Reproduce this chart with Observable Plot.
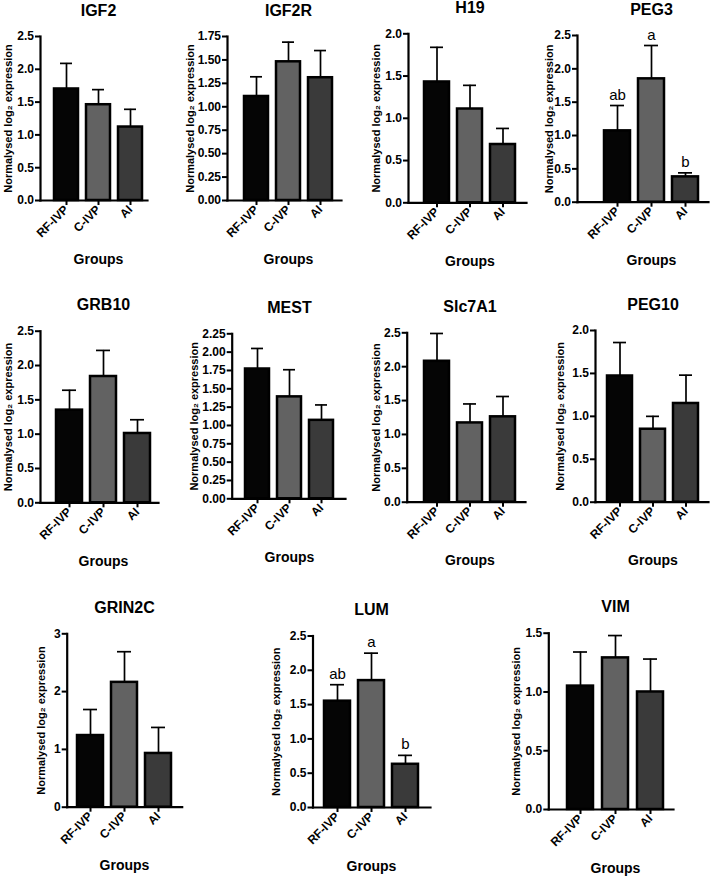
<!DOCTYPE html>
<html>
<head>
<meta charset="utf-8">
<script src="https://cdn.jsdelivr.net/npm/d3@7"></script>
<script src="https://cdn.jsdelivr.net/npm/@observablehq/plot@0.6"></script>
<style>
  html, body { margin: 0; padding: 0; background: #ffffff; }
  #root { position: relative; width: 710px; height: 879px; overflow: hidden; background: #ffffff; }
</style>
</head>
<body>
<div id="root"></div>
<script>
// ---------------- DATA ----------------
const groups = ["RF-IVP", "C-IVP", "AI"];
const genes = ["IGF2", "IGF2R", "H19", "PEG3", "GRB10", "MEST", "Slc7A1", "PEG10", "GRIN2C", "LUM", "VIM"];

const meanIGF2   = [1.70, 1.46, 1.12];  const semIGF2   = [0.39, 0.23, 0.27];
const meanIGF2R  = [1.11, 1.48, 1.31];  const semIGF2R  = [0.21, 0.21, 0.29];
const meanH19    = [1.43, 1.11, 0.69];  const semH19    = [0.41, 0.28, 0.19];
const meanPEG3   = [1.07, 1.85, 0.38];  const semPEG3   = [0.38, 0.50, 0.06];
const meanGRB10  = [1.35, 1.84, 1.01];  const semGRB10  = [0.29, 0.38, 0.20];
const meanMEST   = [1.77, 1.39, 1.07];  const semMEST   = [0.28, 0.37, 0.21];
const meanSlc7A1 = [2.08, 1.17, 1.26];  const semSlc7A1 = [0.41, 0.28, 0.30];
const meanPEG10  = [1.47, 0.85, 1.15];  const semPEG10  = [0.39, 0.15, 0.33];
const meanGRIN2C = [1.24, 2.16, 0.93];  const semGRIN2C = [0.45, 0.53, 0.45];
const meanLUM    = [1.55, 1.85, 0.63];  const semLUM    = [0.24, 0.40, 0.13];
const meanVIM    = [1.05, 1.29, 1.00];  const semVIM    = [0.29, 0.19, 0.28];

const lettersPEG3 = ["ab", "a", "b"];
const lettersLUM  = ["ab", "a", "b"];

const ticks25   = [0, 0.5, 1.0, 1.5, 2.0, 2.5];
const ticks20   = [0, 0.5, 1.0, 1.5, 2.0];
const ticks15   = [0, 0.5, 1.0, 1.5];
const ticks175  = [0, 0.25, 0.5, 0.75, 1.0, 1.25, 1.5, 1.75];
const ticks225  = [0, 0.25, 0.5, 0.75, 1.0, 1.25, 1.5, 1.75, 2.0, 2.25];
const ticks3    = [0, 1, 2, 3];

const yLabel = "Normalysed log\u2082 expression";
const xLabel = "Groups";

// ---------------- STYLE / LAYOUT ----------------
const W = 710, H = 879;
const FONT = "Arial, 'Liberation Sans', Helvetica, sans-serif";
const barColors = ["#050505", "#626262", "#3a3a3a"];
const TICK_FONT = 12;

// ax: y-axis x, ae: x-axis end, yt: top of y axis, yb: zero line, c0: first bar centre, s: bar step, lab: y-label offset
const layout = {
  IGF2:   {ax: 40,    ae: 147,   yt: 36,    yb: 200,   c0: 65.3,  s: 32.7, lab: 32, fmt: ".1f"},
  IGF2R:  {ax: 227,   ae: 341,   yt: 36,    yb: 200,   c0: 255,   s: 32.7, lab: 37, fmt: ".2f"},
  H19:    {ax: 408,   ae: 526,   yt: 33.3,  yb: 202.3, c0: 436,   s: 33.3, lab: 32, fmt: ".1f"},
  PEG3:   {ax: 577,   ae: 708,   yt: 35,    yb: 201.7, c0: 616.5, s: 34.3, lab: 28, fmt: ".1f"},
  GRB10:  {ax: 40,    ae: 158,   yt: 330.7, yb: 502.3, c0: 68.5,  s: 34.2, lab: 32, fmt: ".1f"},
  MEST:   {ax: 231.7, ae: 345,   yt: 333.3, yb: 498.3, c0: 256.5, s: 32.5, lab: 38, fmt: ".2f"},
  Slc7A1: {ax: 406.7, ae: 525,   yt: 332.3, yb: 501.7, c0: 435.8, s: 33.3, lab: 31, fmt: ".1f"},
  PEG10:  {ax: 595,   ae: 708,   yt: 330,   yb: 501.7, c0: 619,   s: 33.7, lab: 35, fmt: ".1f"},
  GRIN2C: {ax: 66.7,  ae: 181.7, yt: 633.3, yb: 806.7, c0: 89.4,  s: 34.8, lab: 26, fmt: "d"},
  LUM:    {ax: 312.5, ae: 430,   yt: 635.5, yb: 807,   c0: 336,   s: 34.4, lab: 37, fmt: ".1f"},
  VIM:    {ax: 548.3, ae: 673,   yt: 632.7, yb: 809,   c0: 579.5, s: 35.2, lab: 32, fmt: ".1f"}
};

const series = {
  IGF2:   [meanIGF2,   semIGF2,   ticks25,  null],
  IGF2R:  [meanIGF2R,  semIGF2R,  ticks175, null],
  H19:    [meanH19,    semH19,    ticks20,  null],
  PEG3:   [meanPEG3,   semPEG3,   ticks25,  lettersPEG3],
  GRB10:  [meanGRB10,  semGRB10,  ticks25,  null],
  MEST:   [meanMEST,   semMEST,   ticks225, null],
  Slc7A1: [meanSlc7A1, semSlc7A1, ticks25,  null],
  PEG10:  [meanPEG10,  semPEG10,  ticks20,  null],
  GRIN2C: [meanGRIN2C, semGRIN2C, ticks3,   null],
  LUM:    [meanLUM,    semLUM,    ticks25,  lettersLUM],
  VIM:    [meanVIM,    semVIM,    ticks15,  null]
};

const PI = 0.25;

function panel(gene) {
  const [mean, sem, ticks, letters] = series[gene];
  const L = layout[gene];
  const rows = groups.map((g, i) => ({group: g, mean: mean[i], top: mean[i] + sem[i], letter: letters ? letters[i] : null}));
  const mid = groups[1];
  const marks = [
    Plot.ruleX(rows, {x: "group", y1: "mean", y2: "top", stroke: "#000", strokeWidth: 1.7}),
    Plot.tickY(rows, {x: "group", y: "top", stroke: "#000", strokeWidth: 1.7, insetLeft: 6, insetRight: 6}),
    Plot.barY(rows, {x: "group", y: "mean", fill: "group", stroke: "#000", strokeWidth: 2.5}),
    Plot.frame({anchor: "left", stroke: "#000", strokeWidth: 2.2, strokeLinecap: "square"}),
    Plot.frame({anchor: "bottom", stroke: "#000", strokeWidth: 2.2, strokeLinecap: "square"}),
    Plot.axisY({ticks, tickFormat: d3.format(L.fmt), tickSize: 5, tickPadding: 1.5, fontSize: TICK_FONT, fontWeight: "bold", label: null, strokeWidth: 2}),
    Plot.axisX({tickRotate: -45, tickSize: 5, tickPadding: 2, fontSize: TICK_FONT, fontWeight: "bold", label: null, strokeWidth: 2}),
    Plot.text([gene], {x: () => mid, frameAnchor: "top", dy: -21, lineAnchor: "bottom", fontSize: 16, fontWeight: "bold"}),
    Plot.text([xLabel], {x: () => mid, frameAnchor: "bottom", dy: 63, lineAnchor: "bottom", fontSize: 14, fontWeight: "bold"}),
    Plot.text([yLabel], {frameAnchor: "left", textAnchor: "middle", rotate: -90, dx: -L.lab, fontSize: 11, fontWeight: "bold"})
  ];
  if (letters) {
    marks.push(Plot.text(rows, {x: "group", y: "top", text: "letter", dy: -6, lineAnchor: "bottom", fontSize: 15, fontWeight: "normal"}));
  }
  const svg = Plot.plot({
    width: W,
    height: H,
    marginLeft: L.ax,
    marginRight: W - L.ae,
    marginTop: L.yt,
    marginBottom: H - L.yb,
    style: {background: "transparent", overflow: "visible", position: "absolute", left: "0px", top: "0px", fontFamily: FONT, color: "#000"},
    x: {type: "band", domain: groups, range: [L.c0 - L.s / 2, L.c0 + 2.5 * L.s], paddingInner: PI, paddingOuter: PI / 2},
    y: {domain: [0, d3.max(ticks)]},
    color: {domain: groups, range: barColors},
    marks
  });
  // make sure axis tick labels render in bold, as in the reference
  svg.querySelectorAll('g[aria-label$="tick label"]').forEach((g) => {
    g.setAttribute("font-weight", "bold");
    g.setAttribute("font-size", TICK_FONT);
    g.querySelectorAll("text").forEach((t) => t.setAttribute("font-weight", "bold"));
  });
  return svg;
}

const root = document.getElementById("root");
for (const g of genes) root.appendChild(panel(g));
</script>
</body>
</html>
